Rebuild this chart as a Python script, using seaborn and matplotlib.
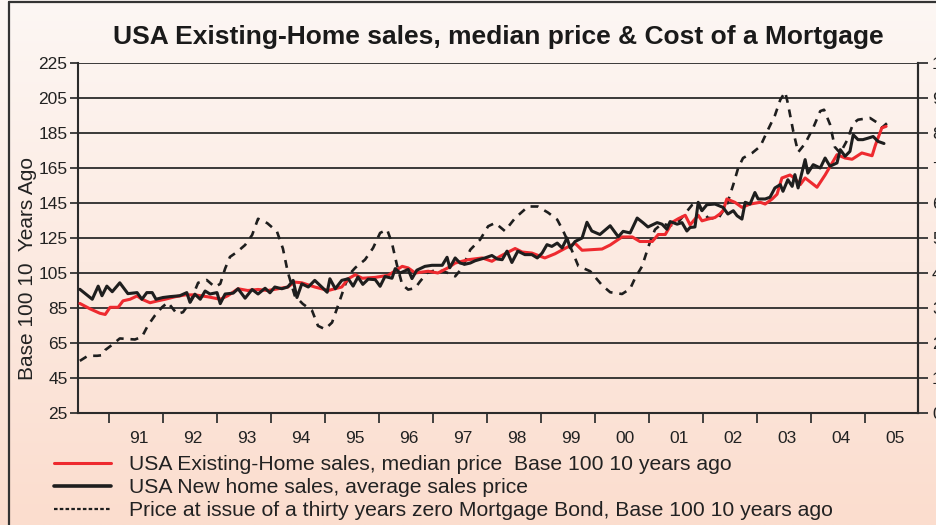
import numpy as np
import pandas as pd
import matplotlib
matplotlib.use("Agg")
import matplotlib.pyplot as plt
import seaborn as sns
from matplotlib.lines import Line2D

# ---------------- data (decimal years, base-100 index values) ----------------
existing_dates = [1990.46, 1990.65, 1990.83, 1990.93, 1991.02, 1991.17, 1991.26, 1991.39, 1991.52, 1991.61,
                  1991.76, 1991.89, 1992.04, 1992.22, 1992.41, 1992.59, 1992.83, 1993.06, 1993.20, 1993.39,
                  1993.57, 1993.76, 1993.94, 1994.13, 1994.31, 1994.44, 1994.57, 1994.81, 1995.06, 1995.31,
                  1995.43, 1995.56, 1995.69, 1995.93, 1996.17, 1996.43, 1996.54, 1996.67, 1996.91, 1997.09,
                  1997.28, 1997.41, 1997.65, 1997.91, 1998.09, 1998.24, 1998.52, 1998.65, 1998.83, 1999.07,
                  1999.26, 1999.44, 1999.63, 1999.76, 2000.13, 2000.28, 2000.50, 2000.69, 2000.83, 2001.06,
                  2001.17, 2001.30, 2001.43, 2001.54, 2001.67, 2001.76, 2001.91, 2001.98, 2002.09, 2002.22,
                  2002.31, 2002.37, 2002.44, 2002.59, 2002.72, 2002.87, 2003.06, 2003.15, 2003.28, 2003.37,
                  2003.46, 2003.61, 2003.70, 2003.80, 2003.89, 2004.11, 2004.26, 2004.48, 2004.63, 2004.76,
                  2004.94, 2005.13, 2005.19, 2005.31, 2005.39]
existing_vals = [87.6, 84.5, 82.0, 81.3, 85.4, 85.4, 89.1, 90.0, 91.9, 90.0,
                 88.0, 89.0, 90.0, 91.4, 92.5, 92.5, 91.4, 90.0, 92.0, 96.0,
                 95.0, 95.6, 95.0, 96.0, 97.0, 99.8, 99.4, 97.0, 95.0, 97.0,
                 101.7, 104.0, 102.0, 102.5, 103.7, 108.8, 107.9, 105.0, 106.0, 105.0,
                 108.0, 110.7, 112.6, 113.6, 111.7, 114.5, 119.0, 117.0, 116.4, 113.6,
                 116.0, 119.0, 122.0, 118.0, 118.7, 121.0, 125.6, 125.6, 123.0, 123.0,
                 127.0, 127.0, 134.0, 136.0, 138.0, 132.5, 138.0, 134.8, 135.8, 136.7,
                 138.7, 140.6, 147.3, 145.4, 142.5, 144.4, 145.4, 144.4, 147.3, 150.0,
                 159.3, 161.0, 159.0, 155.5, 159.3, 154.0, 161.0, 172.6, 170.7, 170.0,
                 173.6, 172.0, 178.0, 187.9, 188.8]

new_dates = [1990.46, 1990.69, 1990.80, 1990.87, 1990.96, 1991.06, 1991.20, 1991.35, 1991.52, 1991.61,
             1991.70, 1991.80, 1991.87, 1992.00, 1992.13, 1992.31, 1992.44, 1992.50, 1992.59, 1992.69,
             1992.78, 1992.87, 1993.00, 1993.06, 1993.15, 1993.30, 1993.39, 1993.52, 1993.65, 1993.76,
             1993.89, 1993.98, 1994.07, 1994.20, 1994.31, 1994.41, 1994.48, 1994.57, 1994.69, 1994.81,
             1994.94, 1995.04, 1995.09, 1995.19, 1995.31, 1995.43, 1995.52, 1995.61, 1995.70, 1995.80,
             1995.93, 1996.02, 1996.11, 1996.24, 1996.30, 1996.39, 1996.54, 1996.61, 1996.70, 1996.85,
             1996.98, 1997.17, 1997.26, 1997.31, 1997.41, 1997.50, 1997.59, 1997.69, 1997.78, 1997.96,
             1998.09, 1998.19, 1998.28, 1998.37, 1998.46, 1998.57, 1998.70, 1998.83, 1998.93, 1999.02,
             1999.11, 1999.20, 1999.30, 1999.39, 1999.48, 1999.54, 1999.63, 1999.76, 1999.85, 1999.94,
             2000.09, 2000.28, 2000.43, 2000.52, 2000.65, 2000.78, 2000.89, 2000.98, 2001.15, 2001.24,
             2001.33, 2001.39, 2001.52, 2001.61, 2001.70, 2001.76, 2001.85, 2001.91, 2001.98, 2002.07,
             2002.22, 2002.37, 2002.46, 2002.56, 2002.63, 2002.72, 2002.78, 2002.87, 2002.96, 2003.02,
             2003.15, 2003.24, 2003.33, 2003.43, 2003.48, 2003.57, 2003.65, 2003.70, 2003.76, 2003.89,
             2003.94, 2004.04, 2004.17, 2004.26, 2004.35, 2004.48, 2004.54, 2004.63, 2004.72, 2004.78,
             2004.87, 2004.96, 2005.06, 2005.15, 2005.24, 2005.35]
new_vals = [95.7, 90.0, 97.5, 92.0, 97.5, 94.3, 99.4, 93.2, 93.8, 90.0,
            93.8, 93.8, 90.0, 91.0, 91.5, 92.0, 93.8, 88.2, 92.9, 90.0,
            94.7, 93.0, 93.8, 87.5, 93.0, 93.5, 96.0, 90.6, 95.6, 93.0,
            96.3, 93.7, 97.0, 96.0, 97.0, 100.8, 91.0, 98.8, 97.0, 100.8,
            97.0, 94.0, 101.7, 96.0, 100.8, 101.7, 97.5, 102.7, 98.5, 101.5,
            101.2, 97.4, 103.0, 102.0, 107.5, 105.0, 107.0, 101.8, 106.6, 108.8,
            109.4, 109.4, 114.0, 108.0, 113.6, 110.7, 110.0, 110.7, 112.0, 113.6,
            115.0, 113.0, 112.6, 117.5, 111.0, 117.5, 115.5, 115.5, 113.6, 116.4,
            121.2, 120.2, 122.1, 119.3, 125.0, 119.3, 123.0, 125.0, 134.0, 129.0,
            127.0, 132.0, 125.7, 128.8, 127.9, 136.4, 133.7, 131.3, 133.8, 132.9,
            130.0, 134.4, 132.9, 133.8, 129.0, 131.0, 131.3, 145.4, 140.6, 144.0,
            144.4, 142.5, 138.7, 140.6, 137.7, 135.8, 145.4, 144.4, 151.0, 147.3,
            147.3, 148.3, 153.6, 155.5, 151.7, 158.3, 154.5, 161.2, 153.6, 169.8,
            162.1, 166.9, 165.0, 170.7, 166.0, 167.9, 175.5, 171.7, 174.5, 184.0,
            181.2, 181.2, 182.1, 183.0, 180.2, 179.0]

bond_dates = [1990.46, 1990.61, 1990.78, 1990.87, 1990.93, 1991.06, 1991.20, 1991.48, 1991.61, 1991.72,
              1991.85, 1991.98, 1992.09, 1992.26, 1992.37, 1992.50, 1992.65, 1992.81, 1992.96, 1993.06,
              1993.15, 1993.24, 1993.37, 1993.52, 1993.65, 1993.76, 1993.93, 1994.11, 1994.22, 1994.31,
              1994.44, 1994.59, 1994.76, 1994.87, 1995.00, 1995.13, 1995.24, 1995.37, 1995.46, 1995.56,
              1995.74, 1995.89, 1996.02, 1996.15, 1996.24, 1996.33, 1996.43, 1996.54, 1996.67, 1996.76,
              1996.89, 1997.07, 1997.28, 1997.41, 1997.54, 1997.69, 1997.87, 1998.02, 1998.15, 1998.33,
              1998.52, 1998.76, 1998.94, 1999.13, 1999.30, 1999.41, 1999.54, 1999.69, 1999.91, 2000.13,
              2000.28, 2000.50, 2000.65, 2000.74, 2000.87, 2001.02, 2001.11, 2001.24, 2001.39, 2001.54,
              2001.70, 2001.80, 2001.89, 2001.98, 2002.09, 2002.28, 2002.44, 2002.56, 2002.65, 2002.74,
              2002.91, 2003.06, 2003.20, 2003.33, 2003.43, 2003.52, 2003.57, 2003.67, 2003.76, 2003.89,
              2004.04, 2004.17, 2004.24, 2004.35, 2004.44, 2004.54, 2004.67, 2004.78, 2004.87, 2005.09,
              2005.22, 2005.31, 2005.41]
bond_vals = [54.8, 57.7, 57.7, 58.0, 61.0, 64.0, 67.6, 67.0, 68.5, 75.0,
             80.7, 85.4, 88.2, 81.6, 82.6, 88.2, 99.4, 101.0, 97.0, 98.8,
             107.5, 114.2, 117.0, 121.0, 126.7, 136.0, 133.5, 128.7, 119.0, 105.6,
             92.0, 87.3, 83.5, 74.8, 72.9, 76.7, 86.3, 98.0, 104.6, 108.0,
             112.6, 119.3, 127.9, 129.8, 122.0, 109.8, 98.3, 95.5, 96.4, 100.2,
             105.0, 106.9, 105.0, 103.1, 107.9, 118.3, 124.0, 131.7, 133.6, 129.0,
             136.4, 143.0, 143.0, 139.5, 135.5, 129.0, 120.2, 109.0, 106.0, 98.0,
             94.0, 93.0, 96.0, 102.0, 108.8, 123.0, 129.8, 133.2, 132.0, 134.0,
             140.2, 144.0, 145.4, 140.5, 136.5, 136.0, 144.0, 155.5, 165.0, 170.7,
             173.6, 177.4, 186.7, 195.0, 204.0, 208.4, 202.0, 186.0, 174.0, 179.0,
             188.0, 197.5, 198.3, 190.0, 177.0, 173.5, 181.0, 190.5, 192.6, 193.6,
             191.0, 188.0, 190.7]

year_ticks = list(range(1991, 2006))
year_labels = ["91", "92", "93", "94", "95", "96", "97", "98", "99", "00", "01", "02", "03", "04", "05"]
left_ticks = [25, 45, 65, 85, 105, 125, 145, 165, 185, 205, 225]
right_ticks = [0, 1, 2, 3, 4, 5, 6, 7, 8, 9, 10]

series_labels = ["USA Existing-Home sales, median price  Base 100 10 years ago",
                 "USA New home sales, average sales price",
                 "Price at issue of a thirty years zero Mortgage Bond, Base 100 10 years ago"]

# ---------------- style ----------------
sns.set_theme(style="ticks")
plt.rcParams['font.family'] = ['Liberation Sans', 'DejaVu Sans']

W, H = 937, 525
fig = plt.figure(figsize=(W / 100, H / 100), dpi=100)

# gradient background
bg = fig.add_axes([0, 0, 1, 1], zorder=-10)
top = np.array([253, 247, 244]) / 255
bot = np.array([251, 221, 206]) / 255
t = np.linspace(0, 1, 256)[:, None]
grad = top[None, :] * (1 - t) + bot[None, :] * t
bg.imshow(grad[:, None, :].repeat(2, axis=1), aspect='auto', extent=[0, 1, 0, 1], origin='upper')
bg.set_axis_off()
# frame lines (left / top)
fig.add_artist(Line2D([9 / W, 9 / W], [0, 1 - 2 / H], color='#333333', lw=1.6, transform=fig.transFigure))
fig.add_artist(Line2D([9 / W, 1], [1 - 2 / H, 1 - 2 / H], color='#333333', lw=1.6, transform=fig.transFigure))

L, R, T, B = 78, 918, 63, 413
ax = fig.add_axes([L / W, 1 - B / H, (R - L) / W, (B - T) / H])
ax.set_facecolor('none')

red = '#ee2a2f'
blk = '#1e1e1e'
df_e = pd.DataFrame({'date': existing_dates, 'val': existing_vals})
df_n = pd.DataFrame({'date': new_dates, 'val': new_vals})
df_b = pd.DataFrame({'date': bond_dates, 'val': bond_vals})

sns.lineplot(data=df_b, x='date', y='val', ax=ax, color=blk, lw=1.9, estimator=None, sort=False, zorder=3)
ax.lines[-1].set_dashes([3, 2.6])
sns.lineplot(data=df_e, x='date', y='val', ax=ax, color=red, lw=2.2, estimator=None, sort=False, zorder=4)
sns.lineplot(data=df_n, x='date', y='val', ax=ax, color=blk, lw=2.2, estimator=None, sort=False, zorder=5)

ax.set_xlim(1990.426, 2005.98)
ax.set_ylim(25, 225)
ax.set_xlabel('')
ax.set_ylabel('')

ax.set_yticks(left_ticks)
ax.set_yticklabels([str(v) for v in left_ticks], fontsize=12.5, color='#222222')
ax.tick_params(axis='y', direction='out', length=6, width=1.3, color='#333333', pad=1.5)

ax.set_xticks(year_ticks)
ax.set_xticklabels([])
ax.set_xticks([y + 0.55 for y in year_ticks], minor=True)
ax.set_xticklabels(year_labels, minor=True, fontsize=12.5, color='#222222')
ax.tick_params(axis='x', which='major', direction='out', length=7, width=1.3, color='#333333')
ax.tick_params(axis='x', which='minor', length=0, pad=13)

for v in left_ticks:
    ax.axhline(v, color='#2b2b2b', lw=1.3, zorder=1)

for s in ['left', 'bottom', 'right']:
    ax.spines[s].set_color('#2b2b2b')
    ax.spines[s].set_linewidth(1.5)
ax.spines['top'].set_visible(False)

ax2 = ax.twinx()
ax2.set_ylim(0, 10)
ax2.set_yticks(right_ticks)
ax2.set_yticklabels([str(v) for v in right_ticks], fontsize=12.5, color='#222222')
ax2.tick_params(axis='y', direction='out', length=7, width=1.3, color='#333333', pad=3)
for s in ['left', 'bottom', 'top']:
    ax2.spines[s].set_visible(False)
ax2.spines['right'].set_color('#2b2b2b')
ax2.spines['right'].set_linewidth(1.5)
ax2.grid(False)

# title & y label
fig.text(498 / W, 1 - 37 / H, "USA Existing-Home sales, median price & Cost of a Mortgage",
         ha='center', va='center', fontsize=19, fontweight='bold', color='#1a1a1a')
fig.text(28 / W, 1 - 268 / H, "Base 100 10  Years Ago", rotation=90, ha='center', va='center',
         fontsize=15, color='#222222')

# legend
handles = [Line2D([], [], color=red, lw=2.2),
           Line2D([], [], color=blk, lw=2.6),
           Line2D([], [], color=blk, lw=1.6, dashes=[1.6, 1.0])]
leg = fig.legend(handles, series_labels, loc='upper left', bbox_to_anchor=(54 / W, 1 - 455 / H),
                 frameon=False, fontsize=15.2, handlelength=2.7, handletextpad=0.85, labelspacing=0.2,
                 borderaxespad=0, borderpad=0)
for txt in leg.get_texts():
    txt.set_color('#222222')

fig.savefig('out.png', dpi=100)
